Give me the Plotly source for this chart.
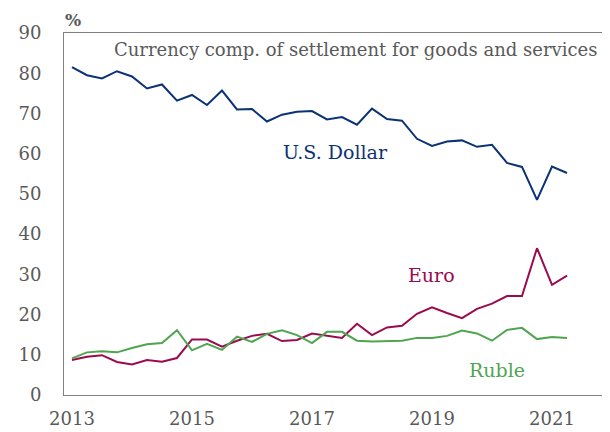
import plotly.graph_objects as go

# quarterly observations, 2013Q1 .. 2021Q2
quarters = ["%dQ%d" % (y, q) for y in range(2013, 2022) for q in range(1, 5)][:34]

usd = [81.5, 79.5, 78.7, 80.5, 79.2, 76.2, 77.2, 73.2, 74.6, 72.1, 75.7, 71.0,
       71.1, 68.0, 69.7, 70.4, 70.6, 68.5, 69.1, 67.2, 71.2, 68.6, 68.2, 63.7,
       61.9, 63.0, 63.3, 61.7, 62.2, 57.7, 56.7, 48.5, 56.8, 55.2]
eur = [8.7, 9.5, 9.9, 8.2, 7.6, 8.7, 8.3, 9.2, 13.8, 13.8, 12.0, 13.5,
       14.7, 15.2, 13.4, 13.7, 15.3, 14.7, 14.2, 17.7, 14.9, 16.8, 17.2, 20.2,
       21.8, 20.4, 19.1, 21.4, 22.7, 24.6, 24.6, 36.5, 27.4, 29.7]
rub = [9.1, 10.6, 10.9, 10.6, 11.7, 12.6, 12.9, 16.1, 11.1, 12.7, 11.2, 14.5,
       13.2, 15.2, 16.1, 14.9, 12.9, 15.7, 15.7, 13.5, 13.3, 13.4, 13.5, 14.2,
       14.2, 14.7, 16.0, 15.3, 13.5, 16.2, 16.7, 13.9, 14.4, 14.2]

year_ticks = [2013, 2015, 2017, 2019, 2021]
y_ticks = list(range(0, 91, 10))

x = [int(q[:4]) + (int(q[-1]) - 1) / 4 for q in quarters]

font_family = "Georgia, 'DejaVu Serif', serif"
grey = "#595959"

series = [
    ("U.S. Dollar", usd, "#0b3274"),
    ("Euro", eur, "#9b0a4f"),
    ("Ruble", rub, "#4fa54f"),
]

fig = go.Figure()
for name, vals, col in series:
    fig.add_trace(go.Scatter(x=x, y=vals, mode="lines", name=name,
                             line=dict(color=col, width=2)))

# inline series labels
labels = [("U.S. Dollar", 2017.4, 60.4, "#0b3274"),
          ("Euro", 2019.0, 29.9, "#9b0a4f"),
          ("Ruble", 2020.08, 6.3, "#4fa54f")]
for txt, lx, ly, col in labels:
    fig.add_annotation(x=lx, y=ly, text=txt, showarrow=False,
                       font=dict(family=font_family, size=19, color=col))

fig.add_annotation(x=1.0, y=1.0, xref="paper", yref="paper",
                   xanchor="right", yanchor="top", showarrow=False,
                   xshift=-4, yshift=-4,
                   text="Currency comp. of settlement for goods and services",
                   font=dict(family=font_family, size=18, color=grey))
fig.add_annotation(x=0.0, y=1.0, xref="paper", yref="paper",
                   xanchor="left", yanchor="bottom", showarrow=False,
                   text="<b>%</b>", xshift=-1, yshift=1,
                   font=dict(family=font_family, size=17, color=grey))

fig.update_xaxes(range=[2012.867, 2021.85], tickvals=year_ticks,
                 ticktext=[str(t) for t in year_ticks], showgrid=False,
                 zeroline=False, showline=True, linecolor="#808080",
                 linewidth=1, mirror=True, ticks="outside", ticklen=7,
                 tickcolor="rgba(0,0,0,0)", automargin=False,
                 tickfont=dict(family=font_family, size=18, color=grey))
fig.update_yaxes(range=[0, 90], tickvals=y_ticks, showgrid=False,
                 zeroline=False, showline=True, linecolor="#808080",
                 linewidth=1, mirror=True, ticks="outside", ticklen=18,
                 tickcolor="rgba(0,0,0,0)", automargin=False,
                 tickfont=dict(family=font_family, size=18, color=grey))

# page body keeps its default 8px margin, so the figure is shrunk by that much
fig.update_layout(
    width=602, height=424,
    margin=dict(l=56, r=7, t=25, b=37),
    showlegend=False,
    plot_bgcolor="white", paper_bgcolor="white",
)

fig.write_html("out.html")
